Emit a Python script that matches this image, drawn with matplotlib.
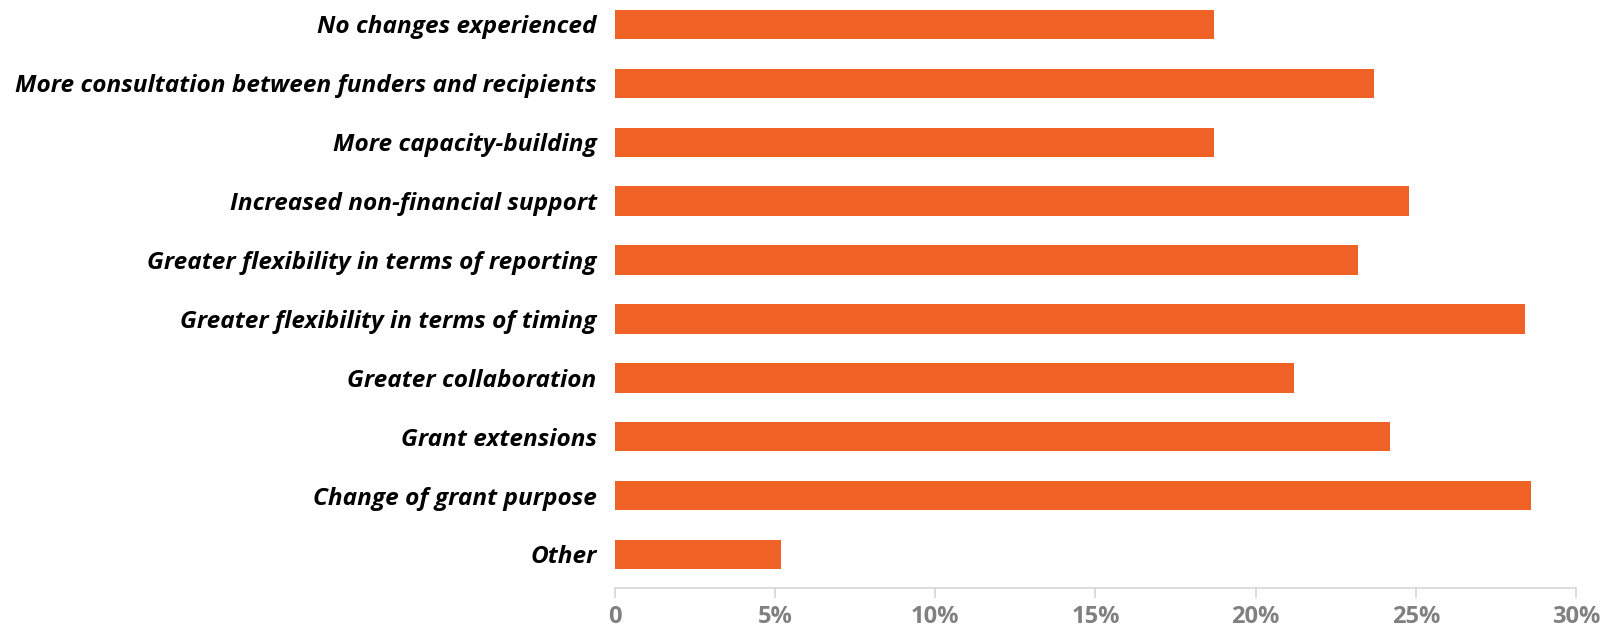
import matplotlib
matplotlib.use('Agg')
import matplotlib.pyplot as plt
from matplotlib.ticker import FuncFormatter

categories = [
    'No changes experienced',
    'More consultation between funders and recipients',
    'More capacity-building',
    'Increased non-financial support',
    'Greater flexibility in terms of reporting',
    'Greater flexibility in terms of timing',
    'Greater collaboration',
    'Grant extensions',
    'Change of grant purpose',
    'Other',
]
values = [18.7, 23.7, 18.7, 24.8, 23.2, 28.4, 21.2, 24.2, 28.6, 5.2]
xticks = [0, 5, 10, 15, 20, 25, 30]

bar_color = '#f06125'
axis_color = '#d5d5d5'
tick_color = '#808080'

fig = plt.figure(figsize=(16.05, 6.26), dpi=100)
ax = fig.add_axes([0.383, 0.0607, 0.599, 0.9393])

ypos = list(range(len(categories)))
ax.barh(ypos, values, height=0.5, color=bar_color)

ax.set_xlim(0, 30)
ax.set_ylim(9.57, -0.416)
ax.set_yticks(ypos)
ax.set_yticklabels(categories, fontfamily='Open Sans', fontweight='bold',
                   fontstyle='italic', fontsize=17.6, color='black')
ax.tick_params(axis='y', length=0, pad=13)

ax.set_xticks(xticks)
ax.xaxis.set_major_formatter(FuncFormatter(lambda v, p: '0' if v == 0 else '%d%%' % v))
ax.tick_params(axis='x', length=7, width=1.2, color=axis_color, pad=5,
               labelcolor=tick_color, labelsize=17)
for lbl in ax.get_xticklabels():
    lbl.set_fontfamily('Open Sans')
    lbl.set_fontweight('bold')

for s in ['left', 'right', 'top']:
    ax.spines[s].set_visible(False)
ax.spines['bottom'].set_color(axis_color)
ax.spines['bottom'].set_linewidth(1.2)

fig.savefig('out.png', dpi=100)
